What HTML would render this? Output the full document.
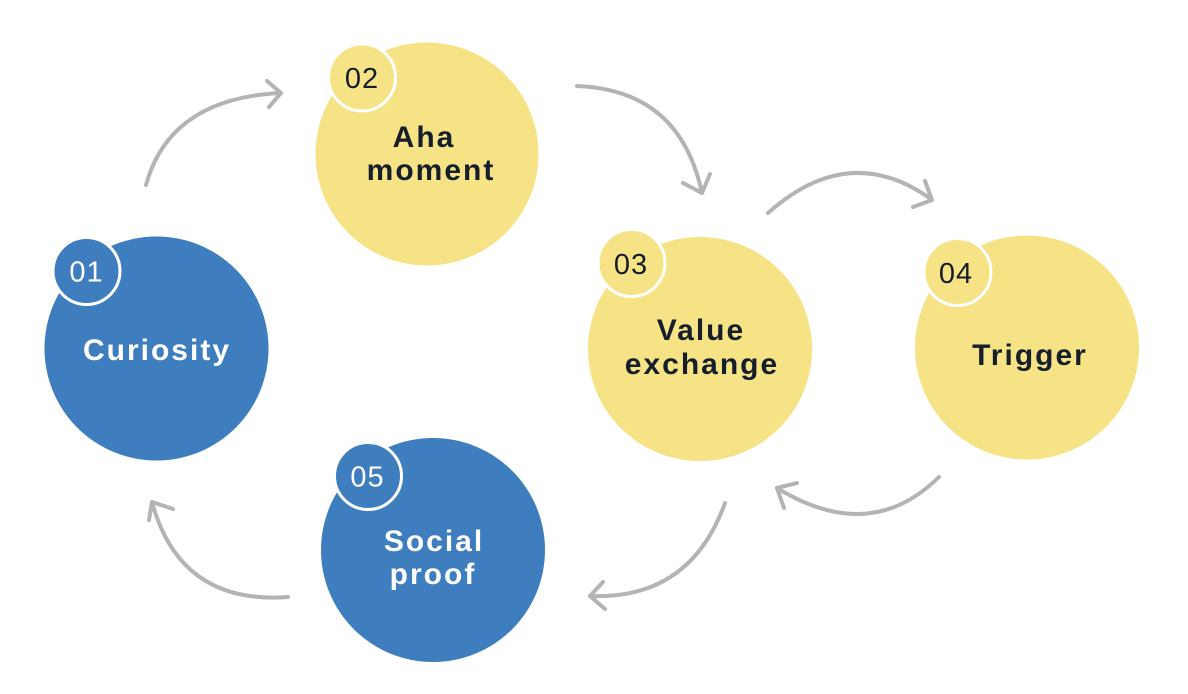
<!DOCTYPE html>
<html>
<head>
<meta charset="utf-8">
<style>
  html, body { margin: 0; padding: 0; background: #ffffff; }
  body { width: 1188px; height: 694px; overflow: hidden; }
  svg { display: block; }
  .lbl { font-family: "Liberation Sans", "DejaVu Sans", sans-serif; font-weight: bold; font-size: 30px; letter-spacing: 2px; }
  .num { font-family: "Liberation Sans", "DejaVu Sans", sans-serif; font-weight: normal; font-size: 29px; letter-spacing: 1px; }
  .arr { fill: none; stroke: #b4b4b4; stroke-width: 4; stroke-linecap: round; stroke-linejoin: round; }
</style>
</head>
<body>
<svg width="1188" height="694" viewBox="0 0 1188 694" xmlns="http://www.w3.org/2000/svg">
  <!-- Arrows -->
  <path class="arr" d="M146,185 Q170,98 281,93"/>
  <path class="arr" d="M267,81 L281,93 L269,107"/>

  <path class="arr" d="M577,86 Q680,90 702,193"/>
  <path class="arr" d="M683,183 L702,193 L710,174"/>

  <path class="arr" d="M768,213 Q850,140 932,200"/>
  <path class="arr" d="M925,181 L932,200 L913,207"/>

  <path class="arr" d="M939,477 Q870,545 777,488"/>
  <path class="arr" d="M797,483 L777,488 L784,508"/>

  <path class="arr" d="M725,503 Q690,600 590,596"/>
  <path class="arr" d="M603,582 L590,596 L605,609"/>

  <path class="arr" d="M288,597 Q180,605 152,502"/>
  <path class="arr" d="M173,509 L152,502 L149,520"/>

  <!-- 01 Curiosity -->
  <circle cx="156.5" cy="348.5" r="112" fill="#3e7ebe"/>
  <circle cx="86.5" cy="271" r="33.5" fill="#3e7ebe" stroke="#ffffff" stroke-width="3"/>
  <text class="num" x="86.5" y="281.5" text-anchor="middle" fill="#ffffff">01</text>
  <text class="lbl" x="157" y="360" text-anchor="middle" fill="#ffffff">Curiosity</text>

  <!-- 02 Aha moment -->
  <circle cx="427" cy="154" r="111.5" fill="#f5e385"/>
  <circle cx="362" cy="77.5" r="33.5" fill="#f5e385" stroke="#ffffff" stroke-width="3"/>
  <text class="num" x="362" y="88" text-anchor="middle" fill="#161d2b">02</text>
  <text class="lbl" x="424" y="147" text-anchor="middle" fill="#161d2b">Aha</text>
  <text class="lbl" x="431" y="180" text-anchor="middle" fill="#161d2b">moment</text>

  <!-- 03 Value exchange -->
  <circle cx="700" cy="349" r="112" fill="#f5e385"/>
  <circle cx="631.5" cy="263" r="33.5" fill="#f5e385" stroke="#ffffff" stroke-width="3"/>
  <text class="num" x="631" y="274" text-anchor="middle" fill="#161d2b">03</text>
  <text class="lbl" x="701" y="340" text-anchor="middle" fill="#161d2b">Value</text>
  <text class="lbl" x="702" y="374" text-anchor="middle" fill="#161d2b">exchange</text>

  <!-- 04 Trigger -->
  <circle cx="1027" cy="347.5" r="112" fill="#f5e385"/>
  <circle cx="957.5" cy="272" r="33.5" fill="#f5e385" stroke="#ffffff" stroke-width="3"/>
  <text class="num" x="956" y="283" text-anchor="middle" fill="#161d2b">04</text>
  <text class="lbl" x="1030" y="365" text-anchor="middle" fill="#161d2b">Trigger</text>

  <!-- 05 Social proof -->
  <circle cx="433" cy="550" r="112" fill="#3e7ebe"/>
  <circle cx="368" cy="476" r="33.5" fill="#3e7ebe" stroke="#ffffff" stroke-width="3"/>
  <text class="num" x="367.5" y="486.5" text-anchor="middle" fill="#ffffff">05</text>
  <text class="lbl" x="434" y="551" text-anchor="middle" fill="#ffffff">Social</text>
  <text class="lbl" x="433" y="584" text-anchor="middle" fill="#ffffff">proof</text>
</svg>
</body>
</html>
